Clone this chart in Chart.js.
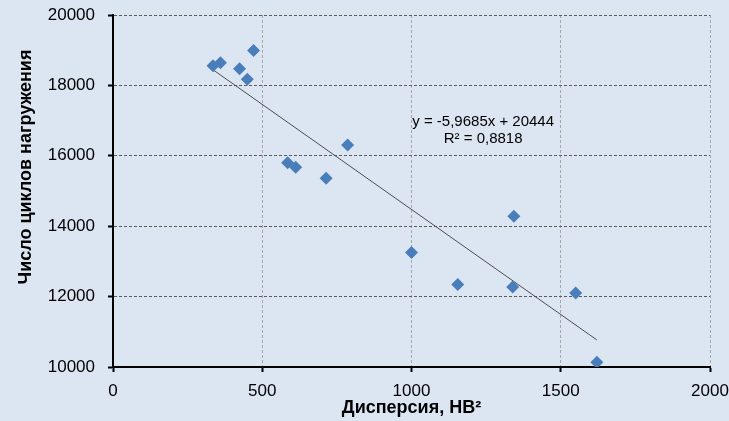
<!DOCTYPE html>
<html>
<head>
<meta charset="utf-8">
<script src="https://cdn.jsdelivr.net/npm/chart.js@4/dist/chart.umd.min.js"></script>
<style>
  html, body { margin: 0; padding: 0; background: #dce6f2; }
  #wrap { width: 729px; height: 421px; position: relative; }
</style>
</head>
<body>
<div id="wrap"><canvas id="c" width="729" height="421"></canvas></div>
<script>
// Data
const dispersion = [335, 360, 424, 450, 471, 585, 612, 714, 786, 1000, 1155, 1343, 1339, 1550, 1621];
const cycles     = [18556, 18641, 18470, 18177, 18994, 15803, 15678, 15365, 16305, 13250, 12341, 14281, 12273, 12102, 10134];
const trendSlope = -5.9685;
const trendIntercept = 20444;
const trendLabel = ['y = -5,9685x + 20444', 'R² = 0,8818'];
const xTicks = [0, 500, 1000, 1500, 2000];
const yTicks = [10000, 12000, 14000, 16000, 18000, 20000];
const xTitle = 'Дисперсия, НВ²';
const yTitle = 'Число циклов нагружения';

const FONT = '"Liberation Sans", Arial, sans-serif';
const xMin = Math.min(...dispersion), xMax = Math.max(...dispersion);
const trendPoints = [
  { x: xMin, y: trendSlope * xMin + trendIntercept },
  { x: xMax, y: trendSlope * xMax + trendIntercept }
];
const points = dispersion.map((x, i) => ({ x, y: cycles[i] }));

const bgPlugin = {
  id: 'bg',
  beforeDraw(chart) {
    const ctx = chart.ctx;
    ctx.save();
    ctx.fillStyle = '#dce6f2';
    ctx.fillRect(0, 0, chart.width, chart.height);
    ctx.restore();
  }
};

const textPlugin = {
  id: 'texts',
  afterDatasetsDraw(chart) {
    const ctx = chart.ctx;
    const xs = chart.scales.x, ys = chart.scales.y;
    const cx = xs.getPixelForValue(1240);
    const cy = ys.getPixelForValue(16960);
    ctx.save();
    ctx.fillStyle = '#000';
    ctx.font = '15px ' + FONT;
    ctx.textAlign = 'center';
    ctx.textBaseline = 'middle';
    ctx.fillText(trendLabel[0], cx, cy);
    ctx.fillText(trendLabel[1], cx, cy + 17);
    ctx.restore();
  },
  afterDraw(chart) {
    const ctx = chart.ctx;
    const ys = chart.scales.y;
    const cy = (ys.top + ys.bottom) / 2 - 24;
    ctx.save();
    ctx.translate(26, cy);
    ctx.rotate(-Math.PI / 2);
    ctx.fillStyle = '#000';
    ctx.font = 'bold 18px ' + FONT;
    ctx.textAlign = 'center';
    ctx.textBaseline = 'middle';
    ctx.fillText(yTitle, 0, 0);
    ctx.restore();
  }
};

new Chart(document.getElementById('c'), {
  type: 'scatter',
  data: {
    datasets: [
      {
        label: 'data',
        data: points,
        pointStyle: 'rectRot',
        pointRadius: 6.5,
        pointHoverRadius: 6.5,
        backgroundColor: '#4a7ebb',
        borderColor: '#4a7ebb',
        borderWidth: 0,
        order: 1
      },
      {
        label: 'trend',
        type: 'line',
        data: trendPoints,
        borderColor: '#4d4d4d',
        borderWidth: 1,
        pointRadius: 0,
        fill: false,
        order: 2
      }
    ]
  },
  options: {
    responsive: false,
    animation: false,
    events: [],
    layout: { padding: { top: 15, right: 19, left: 0, bottom: 0 } },
    plugins: { legend: { display: false }, tooltip: { enabled: false } },
    scales: {
      x: {
        type: 'linear',
        min: 0, max: 2000,
        afterBuildTicks(scale) { scale.ticks = xTicks.map(v => ({ value: v })); },
        afterFit(scale) {
          scale.height = 54;
          scale.paddingLeft = 0; scale.paddingRight = 0;
        },
        border: { display: true, color: '#000', width: 2, dash: [3, 2] },
        grid: {
          color: '#a6a6a6',
          lineWidth: 1,
          drawTicks: true,
          tickLength: 5,
          tickColor: '#000',
          tickWidth: 2,
          tickBorderDash: []
        },
        ticks: {
          color: '#000',
          font: { family: FONT, size: 17 },
          padding: 9,
          maxRotation: 0,
          callback: v => String(v)
        },
        title: {
          display: true,
          text: xTitle,
          color: '#000',
          font: { family: FONT, size: 18, weight: 'bold' },
          padding: { top: 0, bottom: 2 }
        }
      },
      y: {
        type: 'linear',
        min: 10000, max: 20000,
        afterBuildTicks(scale) { scale.ticks = yTicks.map(v => ({ value: v })); },
        afterFit(scale) {
          scale.width = 113;
          scale.paddingTop = 0; scale.paddingBottom = 0;
        },
        border: { display: true, color: '#000', width: 2, dash: [3, 2] },
        grid: {
          color: '#5a5a5a',
          lineWidth: 1,
          drawTicks: true,
          tickLength: 5,
          tickColor: '#000',
          tickWidth: 2,
          tickBorderDash: []
        },
        ticks: {
          color: '#000',
          font: { family: FONT, size: 17 },
          padding: 13,
          callback: v => String(v)
        },
        title: { display: false }
      }
    }
  },
  plugins: [bgPlugin, textPlugin]
});
</script>
</body>
</html>
